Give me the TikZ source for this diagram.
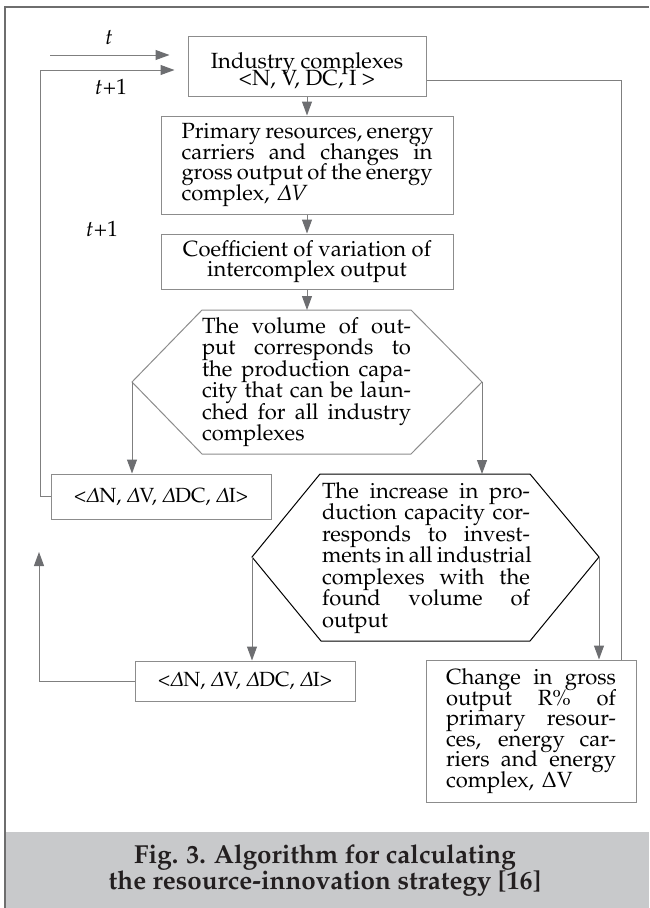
\documentclass[tikz,border=0pt]{standalone}
\usepackage[T1]{fontenc}
\usepackage{mathpazo}
\usetikzlibrary{arrows.meta,calc}
\definecolor{linegray}{HTML}{7F7F7F}
\definecolor{boxgray}{HTML}{8C8C8C}
\definecolor{tipgray}{HTML}{6D6E71}
\definecolor{framegray}{HTML}{6E6E6E}
\definecolor{bandgray}{HTML}{C8C9CB}
\definecolor{captext}{HTML}{231F20}
\mathchardef\itDelta="0101
\newlength\jlw
\newcommand{\tightlines}{\lineskiplimit=-100pt\relax\lineskip=0pt\relax}
\newcommand{\jl}[1]{\makebox[\jlw][s]{\spaceskip=0pt\relax\xspaceskip=0pt\relax #1}\\}
\newcommand{\dI}{$\itDelta$}
\begin{document}
\begin{tikzpicture}[x=1pt,y=-1pt,
  txt/.style={font={\fontsize{22}{20.5}\selectfont\tightlines}, inner sep=0pt},
  hextxt/.style={font={\fontsize{22}{21.5}\selectfont\tightlines}, inner sep=0pt, align=left},
  box/.style={draw=boxgray, line width=1pt, inner sep=0pt, align=center, txt},
  dbox/.style={box, font={\fontsize{20.5}{20.5}\selectfont}},
  conn/.style={draw=linegray, line width=1pt},
  arr/.style={conn, -{Triangle[length=14pt,width=10pt,color=tipgray]}},
  ]
\useasboundingbox (0,0) rectangle (649,908);
% caption band and frame
\fill[bandgray] (6,832) rectangle (649,908);
\draw[framegray, line width=2.5pt] (5,908) -- (5,7) -- (649,7);
\node[font={\fontsize{26}{26}\selectfont\bfseries\tightlines}, align=center, text=captext, inner sep=0pt] (cap) at (325,870.5)
  {Fig. 3. Algorithm for calculating\\the resource-innovation strategy [16]};

% boxes
\node[box, minimum width=238pt, minimum height=60pt] (b1) at (307,66) {};
\node[font={\fontsize{22}{17}\selectfont\tightlines}, inner sep=0pt, align=center] (b1t) at (307,71) {Industry complexes\\<N, V, DC, \.I >};
\node[box, minimum width=292pt, minimum height=98pt, text width=251pt, align=left] (b2) at (307,165)
  {\setlength\jlw{251pt}\jl{Primary resources, energy}\jl{carriers and changes in}\jl{gross output of the energy}complex, $\itDelta V$};
\node[box, minimum width=292pt, minimum height=55pt] (b3) at (307,261.5)
  {Coefficient of variation of\\intercomplex output};

% hexagon 1
\coordinate (h1t) at (307,310);
\coordinate (h1l) at (132,382);
\coordinate (h1r) at (482,382);
\draw[draw=boxgray, line width=1pt] (202,310) -- (411,310) -- (h1r) -- (411,454) -- (202,454) -- (h1l) -- cycle;
\node[hextxt, text width=209pt] (h1x) at (306.5,382)
  {\setlength\jlw{209pt}\jl{The volume of out-}\jl{put corresponds to}\jl{the production capa-}\jl{city that can be laun-}\jl{ched for all industry}complexes};

\node[dbox, minimum width=220pt, minimum height=45pt] (b4) at (161,496.5)
  {<\dI N, \dI V, \dI DC, \dI I>};

% hexagon 2
\coordinate (h2t) at (426,474);
\coordinate (h2l) at (252,557);
\coordinate (h2r) at (599,557);
\draw[black, line width=1pt] (320,474) -- (530,474) -- (h2r) -- (530,641) -- (321,641) -- (h2l) -- cycle;
\node[hextxt, text width=208pt] (h2x) at (426,558)
  {\setlength\jlw{208pt}\jl{The increase in pro-}\jl{duction capacity cor-}\jl{responds to invest-}\jl{ments in all industrial}\jl{complexes with the}\jl{found volume of}output};

\node[dbox, minimum width=220pt, minimum height=40pt] (b5) at (245,681)
  {<\dI N, \dI V, \dI DC, \dI I>};
\node[box, minimum width=210pt, minimum height=142pt, text width=170pt, align=left] (bc) at (531,731)
  {\setlength\jlw{170pt}\jl{Change in gross}\jl{output R\% of}\jl{primary resour-}\jl{ces, energy car-}\jl{riers and energy}complex, $\Delta$V};

% labels
\node[txt] (lt) at (109,37) {$t$};
\node[txt] (lt1) at (111,87) {$t$+1};
\node[txt] (lt2) at (102,229) {$t$+1};

% connectors
\draw[arr] (b1.south) -- (b2.north);
\draw[arr] (b2.south) -- (b3.north);
\draw[arr] (b3.south) -- (h1t);
\draw[arr] (h1l) -- (h1l |- b4.north);
\draw[arr] (h1r) -- (h1r |- h2t);
\draw[arr] (h2l) -- (h2l |- b5.north);
\draw[arr] (h2r) -- (h2r |- bc.north);
\draw[conn] ([yshift=16pt]b1.south east) -| ([xshift=-15pt]bc.north east);
\coordinate (ts) at (50,55);
\draw[arr, shorten >=18pt] (ts) -- (ts -| b1.west);
\coordinate (lc) at (40,70);
\draw[arr, shorten >=13pt] (b4.west) -| (lc) -- (lc -| b1.west);
\coordinate (uc) at (39,552);
\draw[arr] (b5.west) -| (uc);
\end{tikzpicture}
\end{document}
